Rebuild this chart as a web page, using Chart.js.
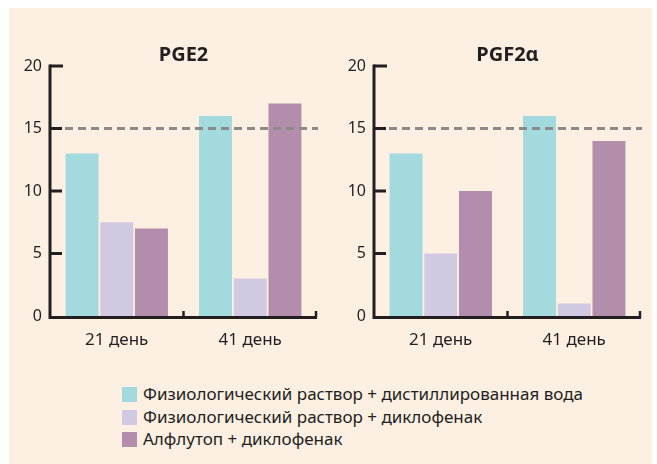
<!DOCTYPE html>
<html>
<head>
<meta charset="utf-8">
<script src="https://cdn.jsdelivr.net/npm/chart.js@4"></script>
<style>
    body { margin: 0; background: #ffffff; width: 657px; height: 464px; overflow: hidden; font-family: "Noto Sans", sans-serif; }
    #panel { position: absolute; left: 9px; top: 8px; width: 643px; height: 456px; background: #fdf0e3; }
    .chartBox { position: absolute; top: 0; }
    #legend { position: absolute; left: 122px; top: 383px; color: #231f20; font-size: 17px; }
    .legendItem { height: 22.5px; line-height: 22.5px; white-space: nowrap; }
    .legendBox { display: inline-block; width: 15px; height: 15px; margin-right: 6px; vertical-align: -2px; }
</style>
</head>
<body>
<div id="panel"></div>
<canvas id="chart_PGE2" class="chartBox" width="330" height="360" style="left:0px"></canvas>
<canvas id="chart_PGF2a" class="chartBox" width="330" height="360" style="left:324px"></canvas>
<div id="legend"></div>
<script>
    const categories = ["21 день", "41 день"];
    const seriesLabels = [
        "Физиологический раствор + дистиллированная вода",
        "Физиологический раствор + диклофенак",
        "Алфлутоп + диклофенак"
    ];
    const seriesColors = ['#a2dadd', '#d1c8e2', '#b28eac'];

    // values per series: [21 день, 41 день]
    const PGE2_saline_water = [13, 16];
    const PGE2_saline_diclo = [7.5, 3];
    const PGE2_alflutop_diclo = [7, 17];

    const PGF2a_saline_water = [13, 16];
    const PGF2a_saline_diclo = [5, 1];
    const PGF2a_alflutop_diclo = [10, 14];

    const yTicks = [0, 5, 10, 15, 20];
    const refValue = 15;

    const textColor = '#231f20';
    Chart.defaults.font.family = '"Noto Sans", sans-serif';
    Chart.defaults.color = textColor;

    // dashed reference line at 15
    const refLinePlugin = {
        id: 'refLine',
        afterDatasetsDraw(chart) {
            const ctx = chart.ctx;
            const area = chart.chartArea;
            const y = chart.scales.y.getPixelForValue(refValue);
            ctx.save();
            ctx.setLineDash([8, 5]);
            ctx.lineWidth = 3;
            ctx.strokeStyle = '#8a8a8a';
            ctx.beginPath();
            ctx.moveTo(area.left + 2, y);
            ctx.lineTo(area.right + 1, y);
            ctx.stroke();
            ctx.restore();
        }
    };

    // axis lines with inward ticks
    const axesPlugin = {
        id: 'axesLines',
        afterDatasetsDraw(chart) {
            const ctx = chart.ctx;
            const area = chart.chartArea;
            const ys = chart.scales.y;
            const xs = chart.scales.x;
            const y0 = ys.getPixelForValue(0);
            const yTop = ys.getPixelForValue(yTicks[yTicks.length - 1]);
            ctx.save();
            ctx.strokeStyle = textColor;
            ctx.lineWidth = 3;
            ctx.lineCap = 'butt';
            ctx.beginPath();
            ctx.moveTo(area.left, yTop - 1.5);
            ctx.lineTo(area.left, y0 + 1.5);
            ctx.lineTo(area.right, y0 + 1.5);
            ctx.stroke();
            for (let i = 0; i < yTicks.length - 1; i++) {
                const y = ys.getPixelForValue(yTicks[i]);
                if (yTicks[i] === 0) continue;
                ctx.beginPath();
                ctx.moveTo(area.left, y);
                ctx.lineTo(area.left + 12, y);
                ctx.stroke();
            }
            ctx.beginPath();
            ctx.moveTo(area.left, yTop);
            ctx.lineTo(area.left + 13, yTop);
            ctx.stroke();
            const mid = (xs.getPixelForValue(0) + xs.getPixelForValue(1)) / 2;
            ctx.lineWidth = 2.5;
            [mid, area.right - 1].forEach(function (x) {
                ctx.beginPath();
                ctx.moveTo(x, y0 + 1.5);
                ctx.lineTo(x, y0 - 5);
                ctx.stroke();
            });
            ctx.restore();
        }
    };

    function makeChart(canvasId, title, values) {
        const data = {
            labels: categories,
            datasets: values.map(function (v, i) {
                return {
                    label: seriesLabels[i],
                    data: v,
                    backgroundColor: seriesColors[i],
                    borderWidth: 0,
                    categoryPercentage: 0.78,
                    barPercentage: 0.95
                };
            })
        };

        const config = {
            type: 'bar',
            data: data,
            options: {
                responsive: false,
                animation: false,
                layout: { padding: { left: 0, right: 13, top: 0, bottom: 0 } },
                plugins: {
                    legend: { display: false },
                    tooltip: { enabled: false },
                    title: {
                        display: true,
                        text: title,
                        fullSize: false,
                        color: textColor,
                        font: { size: 20, weight: 'bold', lineHeight: 1 },
                        padding: { top: 45, bottom: 1 }
                    }
                },
                scales: {
                    x: {
                        grid: { display: false, drawTicks: false },
                        border: { display: false },
                        ticks: { padding: 14, font: { size: 17 }, color: textColor },
                        afterFit: function (scale) { scale.height = 44; }
                    },
                    y: {
                        min: 0,
                        max: 20,
                        grid: { display: false, drawTicks: false },
                        border: { display: false },
                        ticks: { stepSize: 5, padding: 8, font: { size: 16 }, color: textColor },
                        afterFit: function (scale) { scale.width = 50; }
                    }
                }
            },
            plugins: [refLinePlugin, axesPlugin]
        };

        return new Chart(document.getElementById(canvasId), config);
    }

    makeChart('chart_PGE2', 'PGE2', [PGE2_saline_water, PGE2_saline_diclo, PGE2_alflutop_diclo]);
    makeChart('chart_PGF2a', 'PGF2α', [PGF2a_saline_water, PGF2a_saline_diclo, PGF2a_alflutop_diclo]);

    const legend = document.getElementById('legend');
    seriesLabels.forEach(function (label, i) {
        const item = document.createElement('div');
        item.className = 'legendItem';
        const box = document.createElement('span');
        box.className = 'legendBox';
        box.style.background = seriesColors[i];
        item.appendChild(box);
        item.appendChild(document.createTextNode(label));
        legend.appendChild(item);
    });
</script>
</body>
</html>
